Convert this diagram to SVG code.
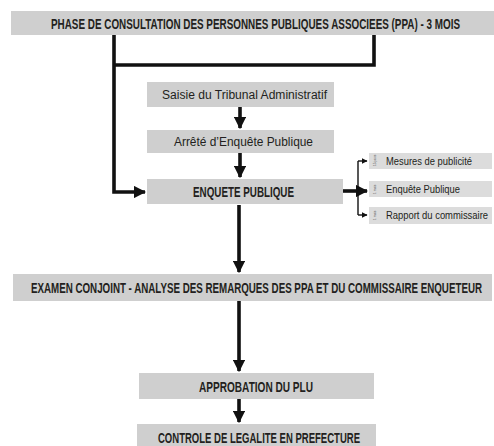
<svg xmlns="http://www.w3.org/2000/svg" width="494" height="446" viewBox="0 0 494 446">
  <defs>
    <style>
      .box { fill: #cfcfcf; }
      .sbox { fill: #dcdcdc; }
      /* condensed bold headings: small face stretched vertically */
      .title { font-family: "Liberation Sans", Arial, sans-serif; font-weight: bold; font-size: 9.5px; fill: #231f20; }
      .label { font-family: "Liberation Sans", Arial, sans-serif; font-size: 12px; fill: #231f20; }
      .small { font-family: "Liberation Sans", Arial, sans-serif; font-size: 10px; fill: #231f20; }
      .tiny { font-family: "Liberation Sans", Arial, sans-serif; font-size: 3.2px; fill: #555; }
      .wire { fill: none; stroke: #111; stroke-width: 3.6; }
      .thin { fill: none; stroke: #111; stroke-width: 1.4; }
    </style>
    <marker id="head" viewBox="0 0 10 10" refX="9" refY="5" markerWidth="3.4" markerHeight="3.6" orient="auto" markerUnits="strokeWidth">
      <path d="M0,0 L10,5 L0,10 z" fill="#111"/>
    </marker>
    <marker id="headSmall" viewBox="0 0 10 10" refX="9" refY="5" markerWidth="4" markerHeight="4" orient="auto" markerUnits="strokeWidth">
      <path d="M0,0 L10,5 L0,10 z" fill="#111"/>
    </marker>
  </defs>

  <g id="ppa">
    <rect class="box" x="11" y="11" width="483" height="24"/>
    <text class="title" transform="translate(51,28.5) scale(1,1.58)" textLength="409" lengthAdjust="spacingAndGlyphs">PHASE DE CONSULTATION DES PERSONNES PUBLIQUES ASSOCIEES (PPA)  - 3 MOIS</text>
  </g>

  <g id="saisie">
    <rect class="box" x="147" y="82" width="187" height="25"/>
    <text class="label" x="162" y="99" textLength="165" lengthAdjust="spacingAndGlyphs">Saisie du Tribunal Administratif</text>
  </g>

  <g id="arrete">
    <rect class="box" x="147" y="130" width="187" height="23"/>
    <text class="label" x="174" y="146" textLength="139" lengthAdjust="spacingAndGlyphs">Arrêté d’Enquête Publique</text>
  </g>

  <g id="enquete">
    <rect class="box" x="147" y="179" width="196" height="25"/>
    <text class="title" transform="translate(193,197) scale(1,1.58)" textLength="101" lengthAdjust="spacingAndGlyphs">ENQUETE PUBLIQUE</text>
  </g>

  <g id="mesures">
    <rect class="sbox" x="369" y="153" width="123" height="16"/>
    <text class="tiny" transform="translate(376,166) rotate(-90)">15 jours</text>
    <text class="small" x="386" y="165" textLength="86" lengthAdjust="spacingAndGlyphs">Mesures de publicité</text>
  </g>

  <g id="enquete-publique">
    <rect class="sbox" x="369" y="181" width="123" height="16"/>
    <text class="tiny" transform="translate(376,194) rotate(-90)">1 mois</text>
    <text class="small" x="386" y="193" textLength="74" lengthAdjust="spacingAndGlyphs">Enquête Publique</text>
  </g>

  <g id="rapport">
    <rect class="sbox" x="369" y="207" width="123" height="17"/>
    <text class="tiny" transform="translate(376,220) rotate(-90)">1 mois</text>
    <text class="small" x="386" y="219" textLength="102" lengthAdjust="spacingAndGlyphs">Rapport du commissaire</text>
  </g>

  <g id="examen">
    <rect class="box" x="13" y="274" width="479" height="27"/>
    <text class="title" transform="translate(31,292.5) scale(1,1.58)" textLength="451" lengthAdjust="spacingAndGlyphs">EXAMEN CONJOINT - ANALYSE DES REMARQUES DES PPA ET DU COMMISSAIRE ENQUETEUR</text>
  </g>

  <g id="approbation">
    <rect class="box" x="139" y="373" width="235" height="26"/>
    <text class="title" transform="translate(199,392) scale(1,1.58)" textLength="114" lengthAdjust="spacingAndGlyphs">APPROBATION DU PLU</text>
  </g>

  <g id="controle">
    <rect class="box" x="137" y="424" width="239" height="24"/>
    <text class="title" transform="translate(158,443) scale(1,1.58)" textLength="202" lengthAdjust="spacingAndGlyphs">CONTROLE DE LEGALITE EN PREFECTURE</text>
  </g>

  <g id="connectors">
    <!-- bracket under the consultation phase -->
    <path class="wire" d="M374,35 V65 H114"/>
    <path class="wire" d="M114,35 V192 H145" marker-end="url(#head)"/>
    <!-- main chain -->
    <path class="wire" d="M240,107 V128" marker-end="url(#head)"/>
    <path class="wire" d="M240,153 V177" marker-end="url(#head)"/>
    <path class="wire" d="M239,205 V272" marker-end="url(#head)"/>
    <path class="wire" d="M239,301 V371" marker-end="url(#head)"/>
    <path class="wire" d="M239,399 V422" marker-end="url(#head)"/>
    <!-- branch to the steps of the inquiry -->
    <path class="wire" d="M343,191 H367" marker-end="url(#head)"/>
    <path class="thin" d="M358,161 V215"/>
    <path class="thin" d="M358,161 H367" marker-end="url(#headSmall)"/>
    <path class="thin" d="M358,215 H367" marker-end="url(#headSmall)"/>
  </g>
</svg>
